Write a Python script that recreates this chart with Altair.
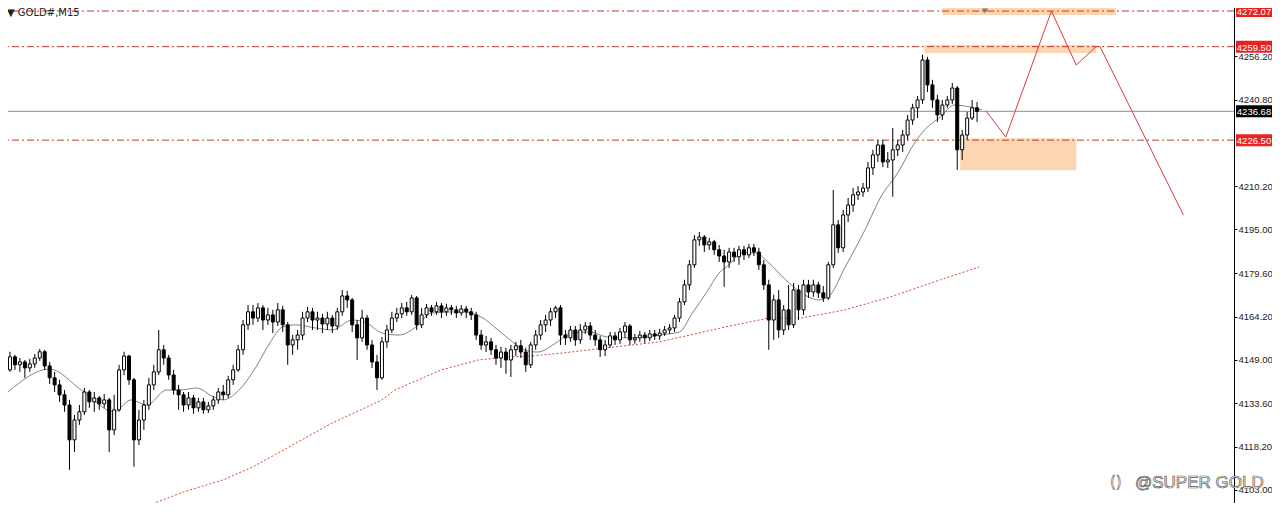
import altair as alt
import pandas as pd

# ---------------- candle data (GOLD#, M15) ----------------
opens = [4145.4, 4150.0, 4147.2, 4148.2, 4146.1, 4147.5, 4149.6, 4151.8, 4146.8, 4142.6,
 4140.1, 4136.6, 4133.0, 4120.7, 4127.7, 4130.6, 4137.6, 4134.1, 4135.5, 4133.4,
 4134.8, 4124.2, 4131.3, 4145.4, 4150.3, 4141.9, 4120.7, 4127.7, 4133.0, 4140.1,
 4144.7, 4152.5, 4149.6, 4143.6, 4138.3, 4136.6, 4133.0, 4135.5, 4132.0, 4134.1,
 4131.3, 4132.7, 4134.8, 4137.6, 4136.6, 4141.9, 4145.4, 4152.5, 4161.3, 4165.9,
 4163.7, 4167.3, 4163.0, 4164.8, 4162.3, 4166.6, 4161.3, 4154.2, 4156.0, 4157.7,
 4163.7, 4165.9, 4163.0, 4163.7, 4161.6, 4163.7, 4160.9, 4165.9, 4171.5, 4170.1,
 4161.3, 4156.7, 4163.7, 4154.2, 4148.2, 4142.6, 4155.3, 4159.5, 4163.7, 4165.2,
 4167.3, 4165.9, 4170.8, 4161.3, 4164.8, 4167.3, 4165.9, 4168.0, 4165.9, 4167.3,
 4166.6, 4165.5, 4166.9, 4165.9, 4164.8, 4157.7, 4154.2, 4155.3, 4152.5, 4149.6,
 4151.7, 4148.9, 4152.5, 4153.9, 4151.7, 4147.2, 4154.2, 4157.7, 4161.3, 4163.0,
 4165.9, 4167.3, 4157.7, 4156.7, 4159.5, 4156.0, 4159.5, 4160.9, 4157.7, 4156.0,
 4152.5, 4154.2, 4157.4, 4156.0, 4158.8, 4160.9, 4156.0, 4156.7, 4157.7, 4156.7,
 4158.1, 4157.4, 4158.4, 4159.5, 4160.2, 4163.7, 4169.4, 4175.4, 4182.5, 4191.3,
 4192.3, 4189.5, 4190.6, 4187.8, 4185.6, 4183.5, 4187.0, 4185.3, 4187.8, 4186.0,
 4188.5, 4187.0, 4182.5, 4175.4, 4163.0, 4170.1, 4159.5, 4166.6, 4161.3, 4173.6,
 4166.6, 4175.4, 4172.9, 4175.4, 4172.6, 4170.8, 4182.5, 4196.6, 4188.5, 4200.1,
 4203.6, 4207.2, 4208.2, 4209.6, 4216.7, 4221.3, 4224.8, 4218.8, 4219.5, 4223.1,
 4224.8, 4228.3, 4233.6, 4237.9, 4240.7, 4254.8, 4246.0, 4240.7, 4235.4, 4238.9,
 4240.7, 4244.9, 4223.1, 4228.3, 4234.3, 4237.9]

closes = [4150.0, 4147.2, 4148.2, 4146.1, 4147.5, 4149.6, 4151.8, 4146.8, 4142.6, 4140.1,
 4136.6, 4133.0, 4120.7, 4127.7, 4130.6, 4137.6, 4134.1, 4135.5, 4133.4, 4134.8,
 4124.2, 4131.3, 4145.4, 4150.3, 4141.9, 4120.7, 4127.7, 4133.0, 4140.1, 4144.7,
 4152.5, 4149.6, 4143.6, 4138.3, 4136.6, 4133.0, 4135.5, 4132.0, 4134.1, 4131.3,
 4132.7, 4134.8, 4137.6, 4136.6, 4141.9, 4145.4, 4152.5, 4161.3, 4165.9, 4163.7,
 4167.3, 4163.0, 4164.8, 4162.3, 4166.6, 4161.3, 4154.2, 4156.0, 4157.7, 4163.7,
 4165.9, 4163.0, 4163.7, 4161.6, 4163.7, 4160.9, 4165.9, 4171.5, 4170.1, 4161.3,
 4156.7, 4163.7, 4154.2, 4148.2, 4142.6, 4155.3, 4159.5, 4163.7, 4165.2, 4167.3,
 4165.9, 4170.8, 4161.3, 4164.8, 4167.3, 4165.9, 4168.0, 4165.9, 4167.3, 4166.6,
 4165.5, 4166.9, 4165.9, 4164.8, 4157.7, 4154.2, 4155.3, 4152.5, 4149.6, 4151.7,
 4148.9, 4152.5, 4153.9, 4151.7, 4147.2, 4154.2, 4157.7, 4161.3, 4163.0, 4165.9,
 4167.3, 4157.7, 4156.7, 4159.5, 4156.0, 4159.5, 4160.9, 4157.7, 4156.0, 4152.5,
 4154.2, 4157.4, 4156.0, 4158.8, 4160.9, 4156.0, 4156.7, 4157.7, 4156.7, 4158.1,
 4157.4, 4158.4, 4159.5, 4160.2, 4163.7, 4169.4, 4175.4, 4182.5, 4191.3, 4192.3,
 4189.5, 4190.6, 4187.8, 4185.6, 4183.5, 4187.0, 4185.3, 4187.8, 4186.0, 4188.5,
 4187.0, 4182.5, 4175.4, 4163.0, 4170.1, 4159.5, 4166.6, 4161.3, 4173.6, 4166.6,
 4175.4, 4172.9, 4175.4, 4172.6, 4170.8, 4182.5, 4196.6, 4188.5, 4200.1, 4203.6,
 4207.2, 4208.2, 4209.6, 4216.7, 4221.3, 4224.8, 4218.8, 4219.5, 4223.1, 4224.8,
 4228.3, 4233.6, 4237.9, 4240.7, 4254.8, 4246.0, 4240.7, 4235.4, 4238.9, 4240.7,
 4244.9, 4223.1, 4228.3, 4234.3, 4237.9, 4236.7]

highs = [4151.8, 4150.7, 4149.6, 4148.9, 4149.3, 4151.0, 4152.8, 4152.5, 4148.2, 4144.7,
 4141.9, 4138.3, 4134.8, 4129.5, 4133.0, 4139.0, 4138.3, 4137.6, 4136.2, 4136.9,
 4135.5, 4136.6, 4147.2, 4151.8, 4150.7, 4142.6, 4131.3, 4134.8, 4142.6, 4147.2,
 4159.5, 4154.2, 4150.7, 4145.4, 4140.1, 4137.6, 4137.6, 4136.6, 4135.5, 4135.5,
 4134.1, 4136.2, 4139.0, 4140.1, 4143.3, 4147.2, 4154.2, 4163.0, 4168.3, 4168.3,
 4169.0, 4168.3, 4167.3, 4166.6, 4169.0, 4168.0, 4162.3, 4157.7, 4159.5, 4165.9,
 4167.6, 4167.3, 4165.9, 4165.2, 4165.9, 4164.8, 4167.3, 4173.6, 4173.3, 4170.8,
 4163.0, 4166.6, 4164.8, 4156.0, 4150.7, 4157.0, 4161.3, 4165.9, 4167.3, 4169.0,
 4169.4, 4171.9, 4171.5, 4167.3, 4168.7, 4168.3, 4169.4, 4169.0, 4168.7, 4168.3,
 4168.0, 4168.3, 4168.0, 4167.3, 4165.9, 4159.5, 4157.4, 4156.7, 4154.2, 4153.5,
 4153.2, 4154.2, 4155.3, 4156.0, 4153.2, 4155.3, 4159.5, 4163.0, 4164.8, 4167.3,
 4168.0, 4168.3, 4159.5, 4160.9, 4160.9, 4161.6, 4162.3, 4162.3, 4159.5, 4157.4,
 4156.0, 4158.8, 4158.8, 4160.2, 4162.3, 4161.6, 4158.1, 4159.2, 4158.8, 4159.5,
 4159.5, 4159.9, 4160.9, 4161.6, 4164.8, 4170.8, 4177.2, 4184.2, 4193.0, 4194.1,
 4193.0, 4192.0, 4191.3, 4189.5, 4187.8, 4188.5, 4188.5, 4189.2, 4189.2, 4189.9,
 4189.9, 4188.5, 4184.2, 4177.2, 4171.9, 4173.6, 4168.3, 4175.4, 4176.1, 4175.4,
 4177.2, 4177.2, 4177.2, 4176.5, 4175.0, 4183.5, 4208.9, 4198.3, 4201.9, 4206.1,
 4209.6, 4210.3, 4211.4, 4218.8, 4223.1, 4226.6, 4226.6, 4222.3, 4230.8, 4226.6,
 4230.1, 4235.4, 4239.3, 4242.1, 4256.6, 4255.9, 4247.8, 4242.5, 4240.7, 4242.1,
 4246.7, 4245.6, 4230.1, 4236.5, 4240.7, 4240.0]

lows = [4144.7, 4145.4, 4144.7, 4142.6, 4144.7, 4146.1, 4148.6, 4145.4, 4140.4, 4137.6,
 4134.1, 4130.6, 4110.1, 4116.4, 4126.0, 4129.5, 4132.0, 4130.6, 4131.3, 4132.0,
 4116.4, 4122.4, 4130.6, 4143.6, 4140.1, 4111.2, 4118.9, 4124.2, 4131.3, 4138.3,
 4143.6, 4147.2, 4141.9, 4136.6, 4131.3, 4130.6, 4131.3, 4129.9, 4130.6, 4129.9,
 4130.2, 4131.3, 4133.4, 4134.8, 4135.5, 4140.1, 4144.7, 4150.7, 4159.5, 4161.3,
 4162.3, 4159.5, 4161.3, 4158.4, 4160.9, 4158.8, 4147.2, 4150.7, 4152.5, 4156.0,
 4162.3, 4159.5, 4159.5, 4158.4, 4159.5, 4158.4, 4159.5, 4164.5, 4167.3, 4158.8,
 4148.9, 4155.3, 4152.5, 4146.1, 4138.3, 4141.9, 4153.2, 4158.4, 4162.3, 4163.7,
 4164.5, 4164.8, 4159.5, 4160.2, 4163.7, 4164.5, 4164.8, 4163.7, 4164.5, 4164.8,
 4163.7, 4164.5, 4163.7, 4163.0, 4156.0, 4152.5, 4151.7, 4150.7, 4147.2, 4146.1,
 4144.0, 4142.9, 4150.3, 4149.6, 4144.7, 4146.1, 4152.5, 4156.0, 4158.8, 4160.9,
 4163.7, 4154.2, 4154.2, 4155.3, 4153.9, 4154.6, 4158.1, 4156.0, 4153.9, 4150.0,
 4150.3, 4153.2, 4154.2, 4154.6, 4156.7, 4154.2, 4154.6, 4155.3, 4154.9, 4155.6,
 4156.0, 4156.0, 4157.4, 4158.1, 4158.8, 4162.3, 4168.3, 4173.6, 4181.4, 4189.2,
 4187.0, 4187.8, 4186.0, 4183.5, 4174.7, 4181.4, 4183.5, 4182.5, 4184.2, 4184.9,
 4185.6, 4180.7, 4173.6, 4152.5, 4156.0, 4156.7, 4157.7, 4159.5, 4160.2, 4163.0,
 4164.8, 4170.8, 4171.2, 4170.8, 4169.4, 4170.1, 4181.4, 4186.7, 4187.0, 4197.6,
 4201.2, 4205.4, 4206.5, 4208.2, 4214.2, 4218.8, 4217.0, 4216.7, 4206.5, 4220.9,
 4222.3, 4226.6, 4231.9, 4234.3, 4239.3, 4243.5, 4237.9, 4232.9, 4233.6, 4237.9,
 4239.3, 4216.0, 4219.5, 4226.6, 4233.6, 4232.9]

# fast moving average (bar index, price)
ma_fast_i = [-0.4, 8, 14.4, 21, 24.4, 27.6, 31.6, 34.4, 37.6, 41, 43, 45.6, 49.6, 52.4, 55,
             57.6, 61.6, 65, 69, 71.6, 75, 78.4, 81.6, 85, 91, 95, 98.4, 101.6, 103.6, 106.4,
             110.4, 113, 117, 120.4, 123.6, 128.4, 131, 135, 137.6, 140.4, 143, 145, 147.6,
             150.4, 153, 156.4, 159.6, 163, 165, 168.4, 172.4, 175.6, 179, 182.4, 184.4,
             187.6, 190.4, 193.6, 196]
ma_fast_p = [4137.6, 4145.7, 4138.3, 4130.6, 4134.8, 4133.0, 4138.3, 4138.3, 4139.0, 4135.9,
             4134.8, 4137.3, 4146.4, 4154.9, 4160.6, 4161.3, 4160.2, 4159.5, 4163.0, 4162.3,
             4158.4, 4157.7, 4160.2, 4165.5, 4165.9, 4164.1, 4159.5, 4154.9, 4152.5, 4151.7,
             4155.3, 4158.4, 4158.8, 4157.0, 4156.7, 4157.0, 4157.7, 4158.8, 4165.5, 4172.6,
             4179.6, 4182.5, 4186.7, 4186.7, 4183.2, 4177.2, 4172.6, 4170.1, 4171.2, 4181.7,
             4194.8, 4206.5, 4214.9, 4225.5, 4230.1, 4234.7, 4238.9, 4238.2, 4237.2]

# slow moving average (red dotted)
ma_slow_i = [25, 35, 43, 49, 57, 65, 71, 75, 77.6, 87, 94.4, 101, 105, 111.6, 120.4, 131,
             144.4, 153, 159.6, 168.4, 177.6, 187.6, 195.4]
ma_slow_p = [4095.6, 4102.3, 4106.6, 4111.2, 4118.9, 4126.7, 4131.5, 4134.8, 4138.3, 4145.4,
             4148.9, 4150.0, 4150.3, 4151.4, 4153.2, 4155.3, 4160.6, 4163.7, 4163.7, 4166.6,
             4171.2, 4177.2, 4181.7]

# key levels
level_prices = [4272.07, 4259.50, 4226.50]
current_price = 4236.68

# shaded zones
zone_i1 = [188, 184.4, 191.6]
zone_i2 = [223, 219, 215]
zone_top = [4273.6, 4260.1, 4227.2]
zone_bottom = [4270.7, 4257.3, 4215.9]

# projected path
proj_i = [196.8, 200.8, 210, 215, 219, 219.8, 236.6]
proj_p = [4236.8, 4227.6, 4272.07, 4253.0, 4259.5, 4259.5, 4200.1]

# axis ticks
tick_values = [4103.00, 4118.20, 4133.60, 4149.00, 4164.20, 4179.60, 4195.00, 4210.20,
               4240.80, 4256.20]

# price tags on the axis
tag_prices = [4272.07, 4259.50, 4226.50, 4236.68]
tag_colors = ["#e8231f", "#e8231f", "#e8231f", "#000000"]

W, H = 1231, 500
xs = alt.Scale(domain=[-0.4, 245.8], nice=False, zero=False)
ys = alt.Scale(domain=[4098.41, 4274.91], nice=False, zero=False)

df = pd.DataFrame({"i": list(range(len(closes))), "open": opens, "high": highs,
                   "low": lows, "close": closes})
zones = pd.DataFrame({"i1": zone_i1, "i2": zone_i2, "top": zone_top, "bottom": zone_bottom})
levels = pd.DataFrame({"p": level_prices})
cur = pd.DataFrame({"p": [current_price]})
fast = pd.DataFrame({"i": ma_fast_i, "p": ma_fast_p})
slow = pd.DataFrame({"i": ma_slow_i, "p": ma_slow_p})
proj = pd.DataFrame({"i": proj_i, "p": proj_p, "o": list(range(len(proj_i)))})
tags = pd.DataFrame({"p": tag_prices, "c": tag_colors,
                     "t": [f"{v:.2f}" for v in tag_prices]})

yaxis = alt.Axis(orient="right", values=tick_values, format=".2f", title=None,
                 labelFont="Liberation Sans", labelFontSize=9.5, labelColor="#222",
                 tickSize=3, tickColor="#000", domainColor="#000", labelPadding=1,
                 labelFlush=False, labelOverlap=False, grid=False)


def Y(field):
    return alt.Y(field, scale=ys, axis=yaxis)


def X(field):
    return alt.X(field, scale=xs, axis=None)


zone_layer = alt.Chart(zones).mark_rect(color="#fcd6b0", clip=True).encode(
    x=X("i1:Q"), x2="i2:Q", y=Y("top:Q"), y2="bottom:Q")

level_layer = alt.Chart(levels).mark_rule(color="#c0392b", strokeWidth=1,
                                          strokeDash=[7, 3, 2, 3]).encode(y=Y("p:Q"))

cur_layer = alt.Chart(cur).mark_rule(color="#8c8c8c", strokeWidth=1).encode(y=Y("p:Q"))

slow_layer = alt.Chart(slow).mark_line(color="#d04a3a", strokeWidth=1,
                                       strokeDash=[2, 2], clip=True).encode(
    x=X("i:Q"), y=Y("p:Q"))

fast_layer = alt.Chart(fast).mark_line(color="#6f8f74", strokeWidth=1,
                                       interpolate="monotone").encode(
    x=X("i:Q"), y=Y("p:Q"))

wick_layer = alt.Chart(df).mark_rule(color="#000", strokeWidth=1).encode(
    x=X("i:Q"), y=Y("low:Q"), y2="high:Q")

body_layer = alt.Chart(df).mark_bar(size=3, stroke="#000", strokeWidth=1).encode(
    x=X("i:Q"), y=Y("open:Q"), y2="close:Q",
    fill=alt.condition("datum.close >= datum.open", alt.value("#ffffff"),
                       alt.value("#000000")))

proj_layer = alt.Chart(proj).mark_line(color="#e0393a", strokeWidth=1).encode(
    x=X("i:Q"), y=Y("p:Q"), order="o:Q")

tag_rect = alt.Chart(tags).mark_tick(orient="horizontal", size=36, thickness=12,
                                     opacity=1).encode(
    x=alt.value(W + 20), y=Y("p:Q"), color=alt.Color("c:N", scale=None))

tag_text = alt.Chart(tags).mark_text(font="Liberation Sans", fontSize=9.5, color="white",
                                     align="center", baseline="middle", dy=1).encode(
    x=alt.value(W + 20), y=Y("p:Q"), text="t:N")

title_text = alt.Chart(pd.DataFrame({"t": ["▼ GOLD#,M15"]})).mark_text(
    font="DejaVu Sans", fontSize=10, color="#222", align="left", baseline="top").encode(
    x=alt.value(4), y=alt.value(5), text="t:N")

marker = alt.Chart(pd.DataFrame({"i": [196.6]})).mark_point(
    shape="triangle-down", filled=True, color="#7a7a7a", size=35, opacity=1).encode(
    x=X("i:Q"), y=alt.value(8))

watermark = alt.Chart(pd.DataFrame({"t": ["@SUPER GOLD"]})).mark_text(
    font="Liberation Sans", fontSize=17, fill="white", stroke="#555",
    strokeWidth=0.7, align="left", baseline="alphabetic").encode(
    x=alt.value(1132), y=alt.value(485), text="t:N")

wm_icon = alt.Chart(pd.DataFrame({"t": ["()"]})).mark_text(
    font="DejaVu Sans", fontSize=15, fill="white", stroke="#666",
    strokeWidth=0.6, align="left", baseline="alphabetic").encode(
    x=alt.value(1107), y=alt.value(484), text="t:N")

chart = alt.layer(
    zone_layer, level_layer, cur_layer, slow_layer, fast_layer, wick_layer, body_layer,
    proj_layer, tag_rect, tag_text, title_text, marker, watermark, wm_icon
).properties(
    width=W, height=H, background="white",
    autosize=alt.AutoSizeParams(type="none"),
    padding={"left": -5, "top": -5, "right": 38, "bottom": 0},
).configure_view(stroke="#7f7f7f", strokeWidth=1)

chart.save("out.html", embed_options={"renderer": "svg", "actions": False})
